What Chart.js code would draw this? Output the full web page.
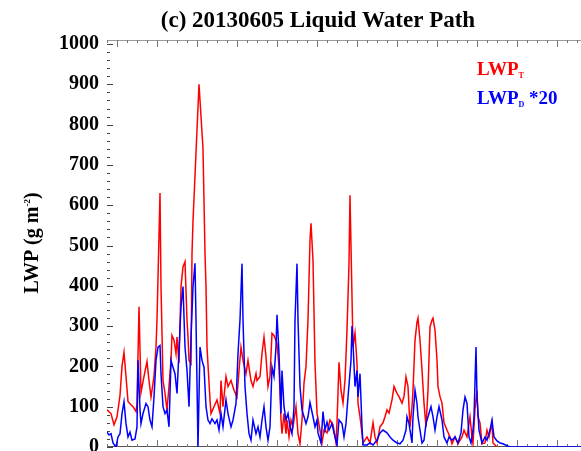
<!DOCTYPE html>
<html>
<head>
<meta charset="utf-8">
<script src="https://cdn.jsdelivr.net/npm/chart.js@4.4.1/dist/chart.umd.min.js"></script>
<style>
html,body{margin:0;padding:0;background:#fff;overflow:hidden}
#wrap{width:581px;height:451px;position:relative}
</style>
</head>
<body>
<div id="wrap"><canvas id="lwpChart"></canvas></div>
<script>
// ===== data: minutes from start of record, LWP in g m-2 =====
const titleText = '(c) 20130605 Liquid Water Path';
const yTitle = [{text:'LWP (g m',size:20},{text:'-2',size:9,dy:-8},{text:')',size:20}];
const yTicks = [0,100,200,300,400,500,600,700,800,900,1000];
const xTickMajor = [15,75,135,195,255,315,375,435,495,555,615,675];

// total LWP (microwave radiometer)
const tTotal = [
  0,6,10.5,15,19.5,22.5,25.5,28.5,31.5,36,
  39,43.5,45,48,51,55.5,60,63,66,70.5,
  73.5,75,79.5,81,84,87,90,93,96,97.5,
  100.5,103.5,105,108,111,114,117,120,121.5,123,
  126,127.5,129,138,144,147,148.5,150,154.5,156,
  160.5,165,169.5,171,174,178.5,181.5,186,190.5,195,
  198,201,204,208.5,211.5,216,219,223.5,225,229.5,
  232.5,235.5,238.5,241.5,244.5,247.5,250.5,255,258,261,
  262.5,265.5,268.5,270,273,276,279,283.5,286.5,289.5,
  292.5,295.5,298.5,301.5,304.5,306,309,312,315,319.5,
  322.5,325.5,330,334.5,339,343.5,345,348,351,354,
  357,360,363,364.5,367.5,369,372,375,376.5,379.5,
  382.5,384,390,394.5,399,402,405,409.5,414,417,
  420,423,427.5,430.5,435,438,442.5,445.5,448.5,451.5,
  454.5,457.5,459,462,465,466.5,469.5,472.5,475.5,478.5,
  481.5,484.5,487.5,489,492,495,496.5,499.5,502.5,505.5,
  510,514.5,517.5,522,526.5,532.5,535.5,540,544.5,547.5,
  549,552,555,556.5,559.5,562.5,567,570,573,577.5,
  579,585
];
const lwpTotal = [
  92,83,55,75,128,200,235,175,113,105,
  100,88,108,348,135,175,212,165,124,175,
  248,315,630,398,165,133,92,150,215,277,
  265,232,273,208,398,447,460,315,273,215,
  207,480,560,900,740,480,398,248,117,83,
  100,117,83,165,100,175,150,165,141,124,
  190,248,215,182,215,165,150,182,165,175,
  232,273,224,150,175,282,277,257,200,67,
  33,83,33,67,25,67,50,100,33,8,
  67,158,200,315,513,555,463,208,84,42,
  10,42,35,67,55,10,60,210,141,109,
  166,290,456,625,372,248,283,208,109,75,
  35,10,25,10,60,25,10,50,60,75,
  92,84,117,150,133,125,109,125,174,150,
  50,100,141,265,310,320,265,191,109,50,
  141,298,315,320,290,216,150,125,109,60,
  42,25,8,25,8,25,42,25,75,25,
  8,95,140,75,60,8,10,42,25,60,
  10,0
];

// drizzle LWP, multiplied by 20
const tDrizzle = [
  0,3,6,9,13.5,16.5,19.5,22.5,25.5,28.5,
  31.5,34.5,37.5,42,45,46.5,49.5,51,54,58.5,
  61.5,64.5,67.5,70.5,73.5,76.5,79.5,81,84,87,
  90,93,96,99,102,105,108,111,114,117,
  120,123,126,129,132,133.5,136.5,139.5,142.5,145.5,
  148.5,151.5,154.5,157.5,162,165,168,171,174,178.5,
  181.5,186,189,193.5,196.5,199.5,202.5,204,207,210,
  213,216,219,223.5,226.5,229.5,232.5,235.5,238.5,241.5,
  244.5,247.5,250.5,253.5,255,258,261,262.5,265.5,268.5,
  271.5,274.5,277.5,280.5,282,285,286.5,289.5,292.5,295.5,
  298.5,301.5,304.5,309,312,315,316.5,321,324,327,
  330,333,337.5,340.5,345,348,352.5,355.5,358.5,361.5,
  366,367.5,369,372,375,376.5,379.5,382.5,384,390,
  394.5,399,405,409.5,414,420,424.5,429,435,439.5,
  444,448.5,450,453,457.5,459,462,465,466.5,469.5,
  472.5,475.5,478.5,481.5,486,489,492,495,498,502.5,
  505.5,510,513,517.5,522,526.5,531,534,537,540,
  543,546,549,550.5,553.5,555,558,562.5,567,570,
  574.5,577.5,580.5,585,589.5,594,600,604.5,711
];
const lwpDrizzle20 = [
  37,30,33,10,0,25,33,83,112,58,
  25,37,17,20,50,215,92,58,83,108,
  100,67,50,124,215,248,252,182,100,83,
  92,50,215,198,182,133,240,348,398,248,
  190,100,273,398,456,315,0,248,215,198,
  100,67,58,70,58,67,42,83,50,117,
  83,50,67,108,232,315,455,315,150,83,
  33,17,67,33,50,25,67,100,50,17,
  50,198,175,248,328,232,83,190,100,67,
  83,50,33,100,315,455,315,150,92,75,
  58,75,110,75,50,67,35,10,88,42,
  62,42,58,35,5,67,58,25,58,124,
  215,300,257,150,190,124,182,50,5,5,
  10,5,17,35,42,35,25,17,10,8,
  17,42,75,58,10,75,141,108,75,42,
  10,17,58,75,100,75,42,75,100,67,
  25,10,25,17,25,10,35,92,124,108,
  25,10,42,75,248,124,42,10,25,17,
  42,67,25,15,10,8,3,0,0
];

const legendItems = [
  {color:'#ff0000', runs:[{text:'LWP',size:19},{text:'T',size:8,dy:3}]},
  {color:'#0000ff', runs:[{text:'LWP',size:19},{text:'D',size:8,dy:3},{text:' *20',size:19}]}
];

const FONT = '"Liberation Serif","Times New Roman",serif';

function runsWidth(ctx, runs){let w=0;for(const r of runs){ctx.font=`bold ${r.size}px ${FONT}`;w+=ctx.measureText(r.text).width;}return w;}
function drawRuns(ctx, x, y, runs){
  let cx=x;
  for(const r of runs){ctx.font=`bold ${r.size}px ${FONT}`;ctx.fillText(r.text,cx,y+(r.dy||0));cx+=ctx.measureText(r.text).width;}
}

// axis box with inward ticks (IDL style)
const frame = {
  id:'frame',
  beforeDatasetsDraw(chart){
    const {ctx, chartArea:a, scales:{x,y}} = chart;
    ctx.save();
    ctx.lineWidth=1;
    ctx.strokeStyle='#9a9a9a';
    ctx.beginPath();
    ctx.moveTo(a.left,a.top+0.5);ctx.lineTo(a.right,a.top+0.5);
    ctx.stroke();
    ctx.strokeStyle='#555';
    ctx.beginPath();
    ctx.moveTo(a.left,a.bottom-0.5);ctx.lineTo(a.right,a.bottom-0.5);
    ctx.stroke();
    // left ticks
    ctx.strokeStyle='#444';
    ctx.beginPath();
    for(let v=0;v<=1000;v+=20){
      const py=Math.round(y.getPixelForValue(v))+0.5;
      const len=v%100===0?6:3;
      ctx.moveTo(a.left,py);ctx.lineTo(a.left+len,py);
    }
    ctx.stroke();
    // top / bottom ticks
    ctx.strokeStyle='#777';
    ctx.beginPath();
    for(let t=0;t<=x.max;t+=15){
      const px=Math.round(x.getPixelForValue(t))+0.5;
      const len=xTickMajor.includes(t)?7:3;
      ctx.moveTo(px,a.top);ctx.lineTo(px,a.top+len);
      ctx.moveTo(px,a.bottom);ctx.lineTo(px,a.bottom-len);
    }
    ctx.stroke();
    ctx.restore();
  }
};

// title, y-axis title and legend text
const labels = {
  id:'labels',
  afterDraw(chart){
    const {ctx} = chart;
    ctx.save();
    ctx.fillStyle='#000';
    ctx.textBaseline='alphabetic';
    ctx.font=`bold 23px ${FONT}`;
    ctx.textAlign='center';
    ctx.fillText(titleText,318,27);
    ctx.textAlign='left';
    // y title, rotated
    ctx.save();
    ctx.translate(38,243);
    ctx.rotate(-Math.PI/2);
    drawRuns(ctx,-runsWidth(ctx,yTitle)/2,0,yTitle);
    ctx.restore();
    // legend
    legendItems.forEach((it,i)=>{ctx.fillStyle=it.color;drawRuns(ctx,477,75+i*29,it.runs);});
    ctx.restore();
  }
};

new Chart(document.getElementById('lwpChart'),{
  type:'line',
  data:{datasets:[
    {label:'LWP_D *20',data:tDrizzle.map((t,i)=>({x:t,y:lwpDrizzle20[i]})),borderColor:'#0000ff',borderWidth:1.5,pointRadius:0,tension:0,order:0},
    {label:'LWP_T',data:tTotal.map((t,i)=>({x:t,y:lwpTotal[i]})),borderColor:'#ff0000',borderWidth:1.5,pointRadius:0,tension:0,order:1}
  ]},
  options:{
    responsive:true,maintainAspectRatio:false,animation:false,
    layout:{padding:{left:0,right:0,top:40,bottom:4}},
    plugins:{legend:{display:false},tooltip:{enabled:false},title:{display:false}},
    scales:{
      x:{type:'linear',min:0,max:711,display:false},
      y:{min:0,max:1010,
        afterBuildTicks:s=>{s.ticks=yTicks.map(v=>({value:v}));},
        afterFit:s=>{s.width=107;s.paddingTop=0;s.paddingBottom=0;},
        grid:{display:false},border:{display:false},
        ticks:{padding:0,color:'#000',callback:v=>String(v),font:{family:FONT,size:20,weight:'bold'}}}
    }
  },
  plugins:[frame,labels]
});
</script>
</body>
</html>
